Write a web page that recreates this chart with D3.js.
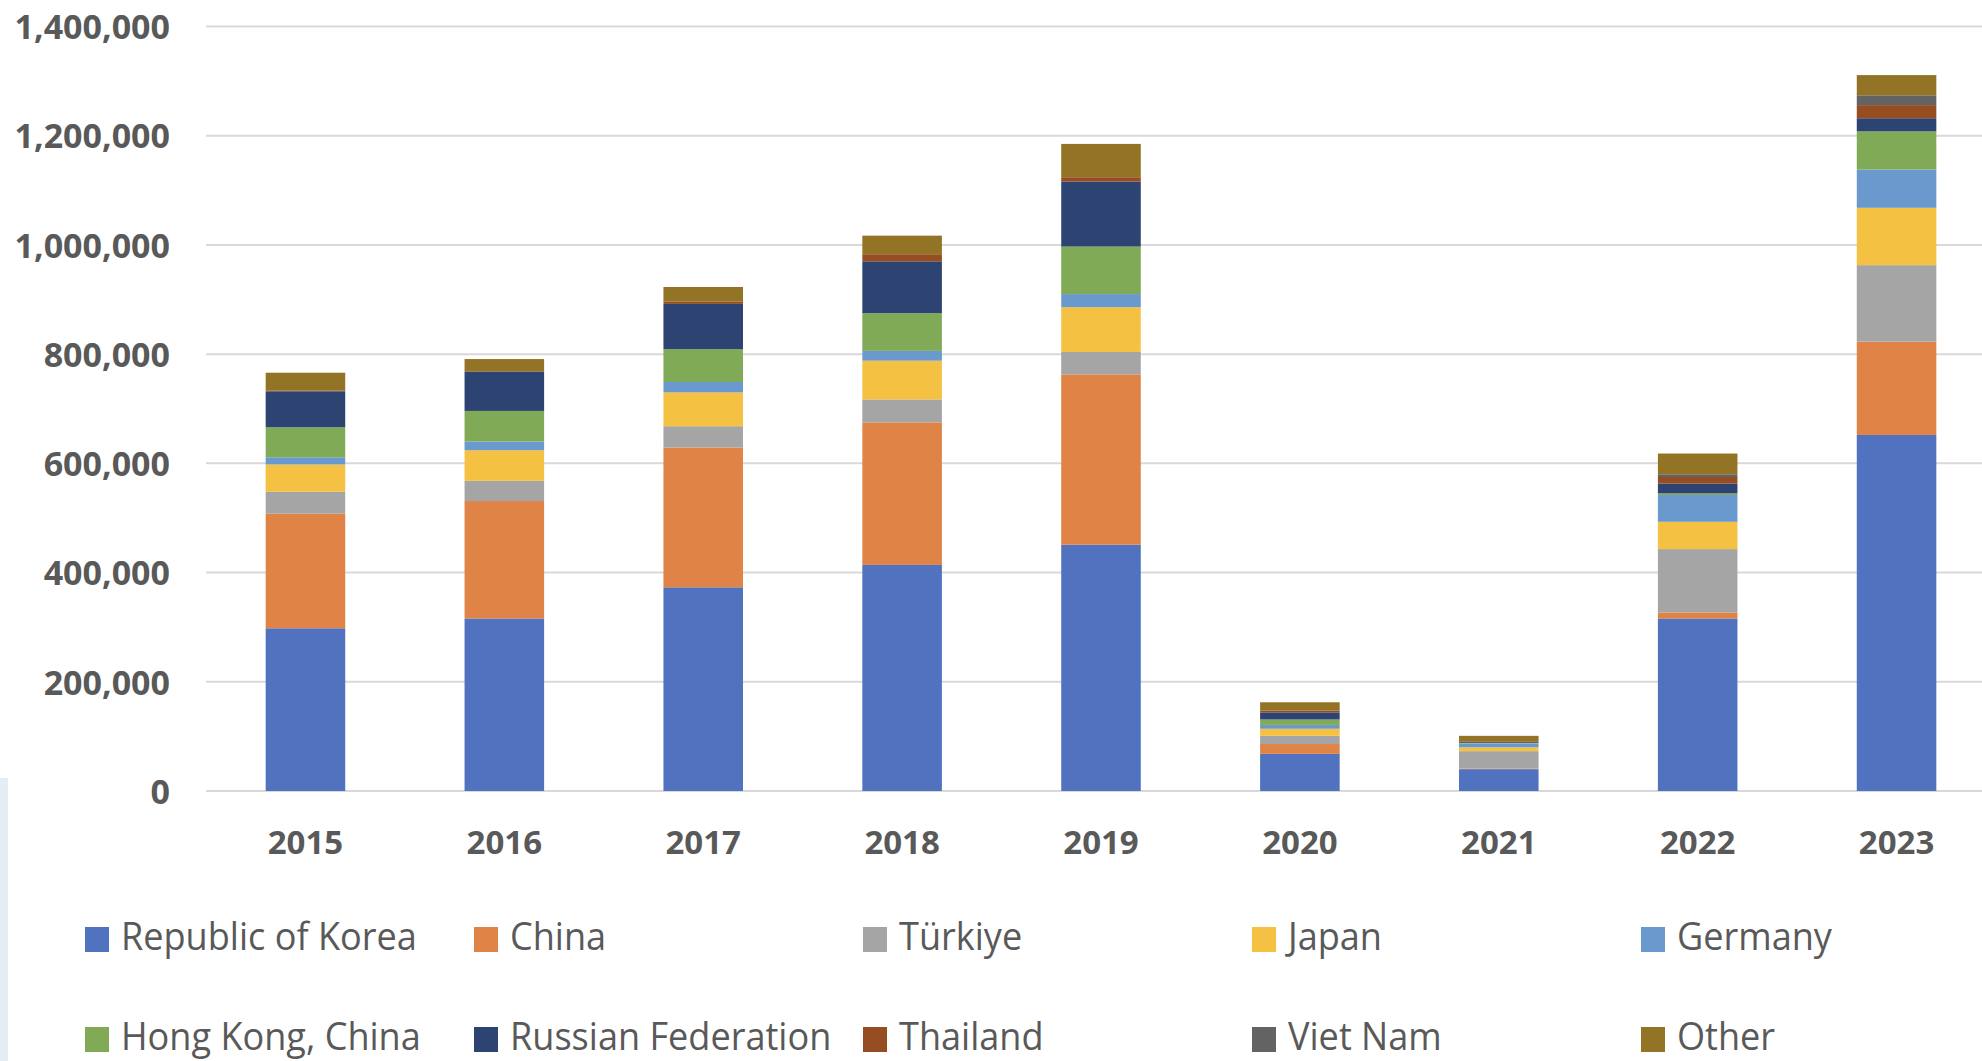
<!DOCTYPE html>
<html>
<head>
<meta charset="utf-8">
<script src="https://cdn.jsdelivr.net/npm/d3@7"></script>
<style>
body { margin: 0; background: #fff; overflow: hidden; }
svg { display: block; font-family: "Open Sans", sans-serif; }
</style>
</head>
<body>
<script>
var width = 1982;
var height = 1061;

// data
var years = ["2015", "2016", "2017", "2018", "2019", "2020", "2021", "2022", "2023"];
var countries = ["Republic of Korea", "China", "Türkiye", "Japan", "Germany",
    "Hong Kong, China", "Russian Federation", "Thailand", "Viet Nam", "Other"];

var korea    = [298000, 316000, 373000, 414000, 451000, 68000, 40000, 316000, 652000];
var china    = [210000, 215000, 256000, 261000, 312000, 18000, 1000, 11000, 171000];
var turkiye  = [40000, 37000, 39000, 42000, 41000, 15000, 32000, 116000, 140000];
var japan    = [50000, 56000, 62000, 71000, 82000, 13000, 7000, 50000, 105000];
var germany  = [13000, 16000, 19000, 18000, 24000, 7000, 7000, 49000, 70000];
var hongkong = [55000, 56000, 60000, 69000, 87000, 10000, 1000, 3000, 70000];
var russia   = [66000, 72000, 83000, 95000, 119000, 13000, 1500, 18000, 24000];
var thailand = [1000, 1000, 4000, 13000, 8000, 3500, 1500, 12000, 24000];
var vietnam  = [0, 0, 0, 0, 0, 0, 0, 5000, 18000];
var other    = [33000, 22000, 27000, 34000, 61000, 15000, 10000, 38000, 37000];

var yTicks = [0, 200000, 400000, 600000, 800000, 1000000, 1200000, 1400000];

var colors = ["#5172be", "#df8346", "#a5a5a5", "#f4c142", "#6a99ce",
    "#80aa56", "#2d4472", "#954d21", "#636363", "#937325"];

var series = [korea, china, turkiye, japan, germany, hongkong, russia, thailand, vietnam, other];

// build rows for d3.stack
var rows = years.map(function(y, i) {
    var r = { year: y };
    countries.forEach(function(c, j) { r[c] = series[j][i]; });
    return r;
});

var svg = d3.select("body").append("svg")
    .attr("width", width)
    .attr("height", height);

// faint photo edge on the left of the slide
svg.append("rect")
    .attr("x", 0).attr("y", 778)
    .attr("width", 8).attr("height", height - 778)
    .attr("fill", "#e3edf3");

var x = d3.scaleBand()
    .domain(years)
    .range([206, 1996])
    .paddingInner(0.6)
    .paddingOuter(0.3);

var y = d3.scaleLinear()
    .domain([0, 1400000])
    .range([791, 26.5]);

var color = d3.scaleOrdinal().domain(countries).range(colors);

// gridlines
svg.append("g")
    .selectAll("line")
    .data(yTicks)
    .enter()
    .append("line")
    .attr("x1", 206)
    .attr("x2", width)
    .attr("y1", function(d) { return y(d); })
    .attr("y2", function(d) { return y(d); })
    .attr("stroke", "#d9d9d9")
    .attr("stroke-width", 2);

// y axis labels
var yAxis = d3.axisLeft(y)
    .tickValues(yTicks)
    .tickFormat(d3.format(","))
    .tickSize(0)
    .tickPadding(0);

var yg = svg.append("g")
    .attr("transform", "translate(170,0)")
    .call(yAxis);
yg.select(".domain").remove();
yg.selectAll("text")
    .attr("fill", "#595959")
    .style("font-family", "'Open Sans', sans-serif")
    .style("font-size", "34px")
    .style("font-weight", "bold")
    .attr("dy", "0.36em");

// stacked bars
var stack = d3.stack().keys(countries);
var layers = stack(rows);

svg.append("g")
    .selectAll("g")
    .data(layers)
    .enter()
    .append("g")
    .attr("fill", function(d) { return color(d.key); })
    .selectAll("rect")
    .data(function(d) { return d; })
    .enter()
    .append("rect")
    .attr("x", function(d) { return x(d.data.year); })
    .attr("y", function(d) { return y(d[1]); })
    .attr("width", x.bandwidth())
    .attr("height", function(d) { return y(d[0]) - y(d[1]); });

// x axis labels
var xAxis = d3.axisBottom(x).tickSize(0).tickPadding(0);
var xg = svg.append("g")
    .attr("transform", "translate(0,854)")
    .call(xAxis);
xg.select(".domain").remove();
xg.selectAll("text")
    .attr("fill", "#595959")
    .attr("dy", 0)
    .attr("y", 0)
    .style("font-family", "'Open Sans', sans-serif")
    .style("font-size", "33px")
    .style("font-weight", "bold");

// legend, two rows of five
var legend = svg.append("g").attr("class", "legend");
var item = legend.selectAll("g")
    .data(countries)
    .enter()
    .append("g")
    .attr("transform", function(d, i) {
        var col = i % 5, row = Math.floor(i / 5);
        return "translate(" + (85 + col * 389) + "," + (927 + row * 100) + ")";
    });

item.append("rect")
    .attr("width", 24)
    .attr("height", 25)
    .attr("fill", function(d) { return color(d); });

// text is a bit condensed in the original
item.append("text")
    .attr("transform", "translate(36,23) scale(0.95,1)")
    .attr("fill", "#595959")
    .style("font-size", "38px")
    .text(function(d) { return d; });
</script>
</body>
</html>
